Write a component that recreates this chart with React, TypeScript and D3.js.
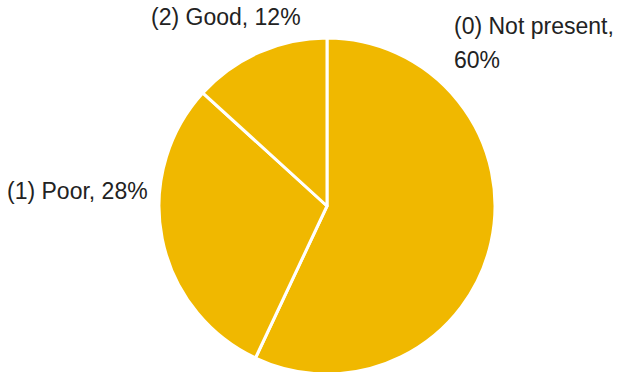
import React from "react";
import * as d3 from "d3";

const categories = ["(0) Not present", "(1) Poor", "(2) Good"];
const values = [57, 29.75, 13.25];
const labelPercents = ["60%", "28%", "12%"];

const W = 617;
const H = 372;
const cx = 327;
const cy = 206;
const R = 168;
const color = "#F0B800";

export default function App() {
  const pie = d3.pie<number>().sort(null).value((d) => d);
  const arcs = pie(values);
  const arcGen = d3.arc<d3.PieArcDatum<number>>().innerRadius(0).outerRadius(R);
  const font = "'Liberation Sans', Arial, sans-serif";
  const fs = 23;
  return (
    <svg width={W} height={H} style={{ position: "absolute", left: 0, top: 0, background: "#fff" }}>
      <g transform={`translate(${cx},${cy})`}>
        {arcs.map((a, i) => (
          <path key={i} d={arcGen(a) || ""} fill={color} stroke="#fff" strokeWidth={3} strokeLinejoin="round" />
        ))}
      </g>
      <g fontFamily={font} fontSize={fs} fill="#222">
        <text x={454} y={34}>{categories[0] + ","}</text>
        <text x={454} y={68}>{labelPercents[0]}</text>
        <text x={7} y={199}>{categories[1] + ", " + labelPercents[1]}</text>
        <text x={151} y={25}>{categories[2] + ", " + labelPercents[2]}</text>
      </g>
    </svg>
  );
}
